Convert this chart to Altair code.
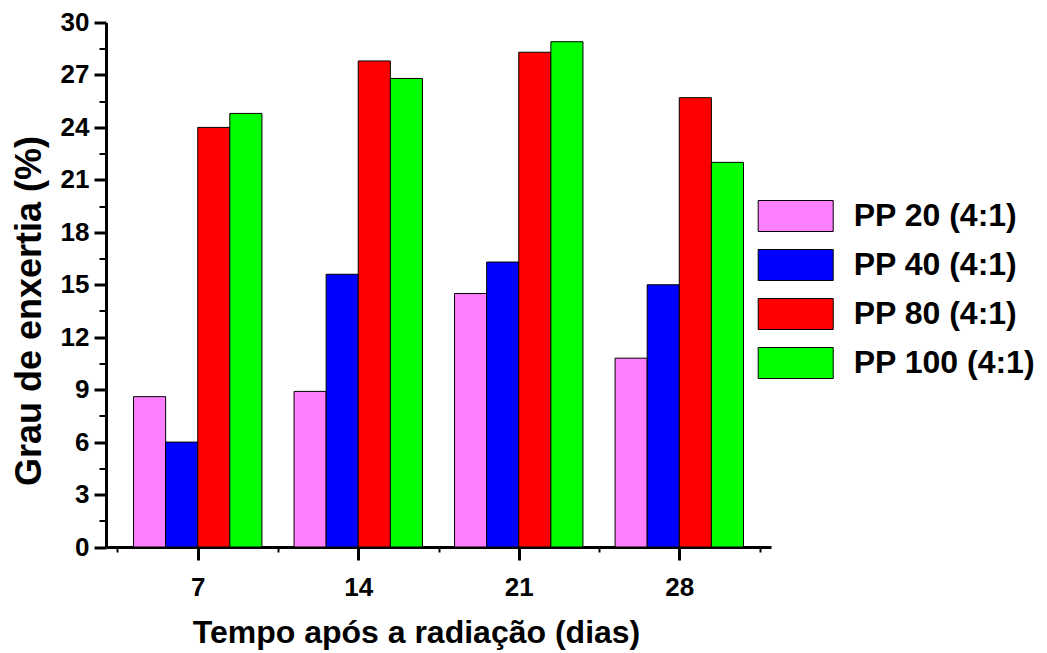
import altair as alt
import pandas as pd

days = [7, 14, 21, 28]
series = ["PP 20 (4:1)", "PP 40 (4:1)", "PP 80 (4:1)", "PP 100 (4:1)"]
pp20 = [8.6, 8.9, 14.5, 10.8]
pp40 = [6.0, 15.6, 16.3, 15.0]
pp80 = [24.0, 27.8, 28.3, 25.7]
pp100 = [24.8, 26.8, 28.9, 22.0]
colors = ["#FF80FF", "#0000FF", "#FF0000", "#00FF00"]
y_ticks = [0, 1.5, 3, 4.5, 6, 7.5, 9, 10.5, 12, 13.5, 15, 16.5, 18, 19.5,
           21, 22.5, 24, 25.5, 27, 28.5, 30]
x_ticks = [3.5, 7, 10.5, 14, 17.5, 21, 24.5, 28, 31.5]

rows = []
for idx, (name, vals) in enumerate(zip(series, [pp20, pp40, pp80, pp100])):
    for d, v in zip(days, vals):
        rows.append({"day": d, "series": name, "idx": idx, "value": v})
df = pd.DataFrame(rows)

FONT = "Liberation Sans"

chart = alt.Chart(df).transform_calculate(
    x0="datum.day + (datum.idx - 2) * 1.4",
    x1="datum.day + (datum.idx - 1) * 1.4",
).mark_bar(stroke="black", strokeWidth=1).encode(
    x=alt.X(
        "x0:Q",
        scale=alt.Scale(domain=[3, 32], nice=False, zero=False),
        axis=alt.Axis(
            title="Tempo após a radiação (dias)",
            values=x_ticks,
            labelExpr="datum.value % 7 == 0 ? datum.label : ''",
            tickSize={"condition": {"test": "datum.value % 7 != 0", "value": 5}, "value": 13},
            tickWidth={"condition": {"test": "datum.value % 7 != 0", "value": 2}, "value": 3},
            labelBaseline="alphabetic",
            labelPadding=35,
            labelFontSize=26,
            labelOverlap=False,
            labelFlush=False,
            titleFontSize=32,
            titleX=310,
            titleY=95,
            titleBaseline="alphabetic",
            titleAlign="center",
            grid=False,
        ),
    ),
    x2="x1:Q",
    y=alt.Y(
        "value:Q",
        scale=alt.Scale(domain=[0, 30], nice=False),
        axis=alt.Axis(
            title="Grau de enxertia (%)",
            values=y_ticks,
            labelExpr="datum.value % 3 == 0 ? datum.label : ''",
            tickSize={"condition": {"test": "datum.value % 3 != 0", "value": 7}, "value": 12},
            tickWidth={"condition": {"test": "datum.value % 3 != 0", "value": 2}, "value": 3},
            labelPadding=5,
            labelFontSize=26,
            labelOverlap=False,
            labelFlush=False,
            titleFontSize=36,
            titleX=-66,
            titleY=288,
            titleBaseline="alphabetic",
            titleAlign="center",
            grid=False,
        ),
    ),
    y2=alt.datum(0),
    color=alt.Color(
        "series:N",
        scale=alt.Scale(domain=series, range=colors),
        legend=alt.Legend(
            title=None,
            orient="none",
            legendX=673.7,
            legendY=177.5,
            padding=0,
            symbolType="M-2.42,-1L2.42,-1L2.42,1L-2.42,1Z",
            symbolSize=961,
            symbolStrokeColor="black",
            symbolStrokeWidth=1,
            symbolOpacity=1,
            labelFont=FONT,
            labelFontWeight="bold",
            labelFontSize=32,
            labelColor="black",
            labelOffset=42,
            rowPadding=13,
            labelLimit=400,
        ),
    ),
).properties(
    width=665,
    height=524.5,
    autosize=alt.AutoSizeParams(type="none"),
    padding={"left": 106, "top": 22.5, "right": 276, "bottom": 106},
).configure_axis(
    domainColor="black",
    domainWidth=3,
    tickColor="black",
    labelColor="black",
    titleColor="black",
    labelFont=FONT,
    labelFontWeight="bold",
    titleFont=FONT,
    titleFontWeight="bold",
).configure_view(stroke=None)

chart.save("out.html", embed_options={"renderer": "svg", "actions": False})
